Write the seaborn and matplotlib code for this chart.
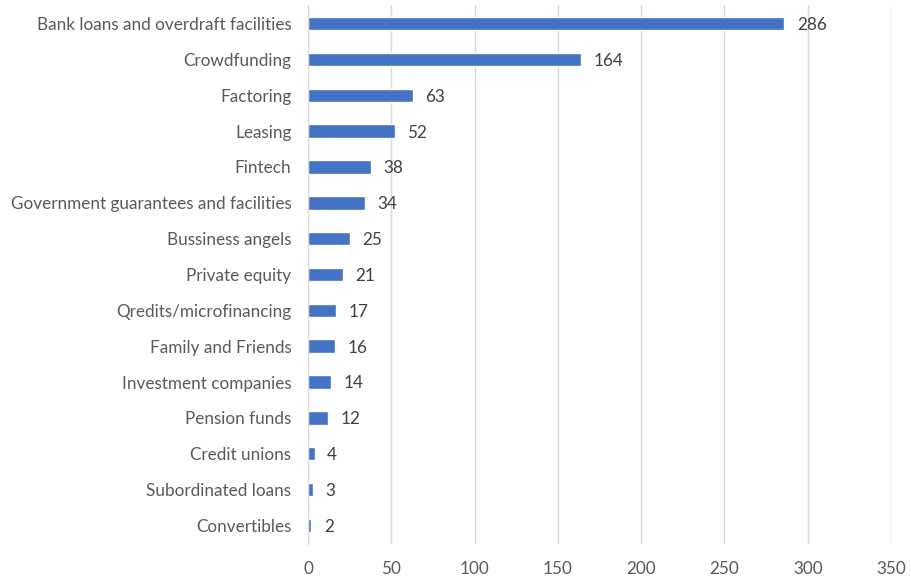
import pandas as pd
import matplotlib.pyplot as plt
import seaborn as sns

# Funding sources and counts
sources = [
    "Bank loans and overdraft facilities",
    "Crowdfunding",
    "Factoring",
    "Leasing",
    "Fintech",
    "Government guarantees and facilities",
    "Bussiness angels",
    "Private equity",
    "Qredits/microfinancing",
    "Family and Friends",
    "Investment companies",
    "Pension funds",
    "Credit unions",
    "Subordinated loans",
    "Convertibles",
]
counts = [286, 164, 63, 52, 38, 34, 25, 21, 17, 16, 14, 12, 4, 3, 2]
x_ticks = [0, 50, 100, 150, 200, 250, 300, 350]

df = pd.DataFrame({"Source": sources, "Count": counts})

sns.set_style("white")
plt.rcParams["font.family"] = ["Lato", "DejaVu Sans"]

text_color = "#595959"
bar_color = "#4472C4"

fig = plt.figure(figsize=(9.12, 5.78), dpi=100)
ax = fig.add_axes([308 / 912, 34 / 578, 583 / 912, 539 / 578])

sns.barplot(data=df, x="Count", y="Source", orient="h", color=bar_color,
            saturation=1, width=0.38, ax=ax, zorder=3)

for i, v in enumerate(counts):
    ax.text(v + 7.5, i + 0.04, str(v), va="center", ha="left", fontsize=12.3, color="#404040")

ax.set_xlim(0, 350)
ax.set_ylim(len(sources) - 0.5 + 0.02, -0.5 - 0.02)
ax.set_xticks(x_ticks)
ax.tick_params(axis="x", labelsize=12.3, colors=text_color, length=0, pad=12)
ax.tick_params(axis="y", labelsize=12.3, colors=text_color, length=0, pad=12)
ax.set_xlabel("")
ax.set_ylabel("")
ax.grid(axis="x", color="#d9d9d9", linewidth=1, zorder=0)
for s in ["top", "right", "bottom"]:
    ax.spines[s].set_visible(False)
ax.spines["left"].set_color("#d9d9d9")
ax.spines["left"].set_zorder(4)

fig.savefig("out.png", dpi=100)
